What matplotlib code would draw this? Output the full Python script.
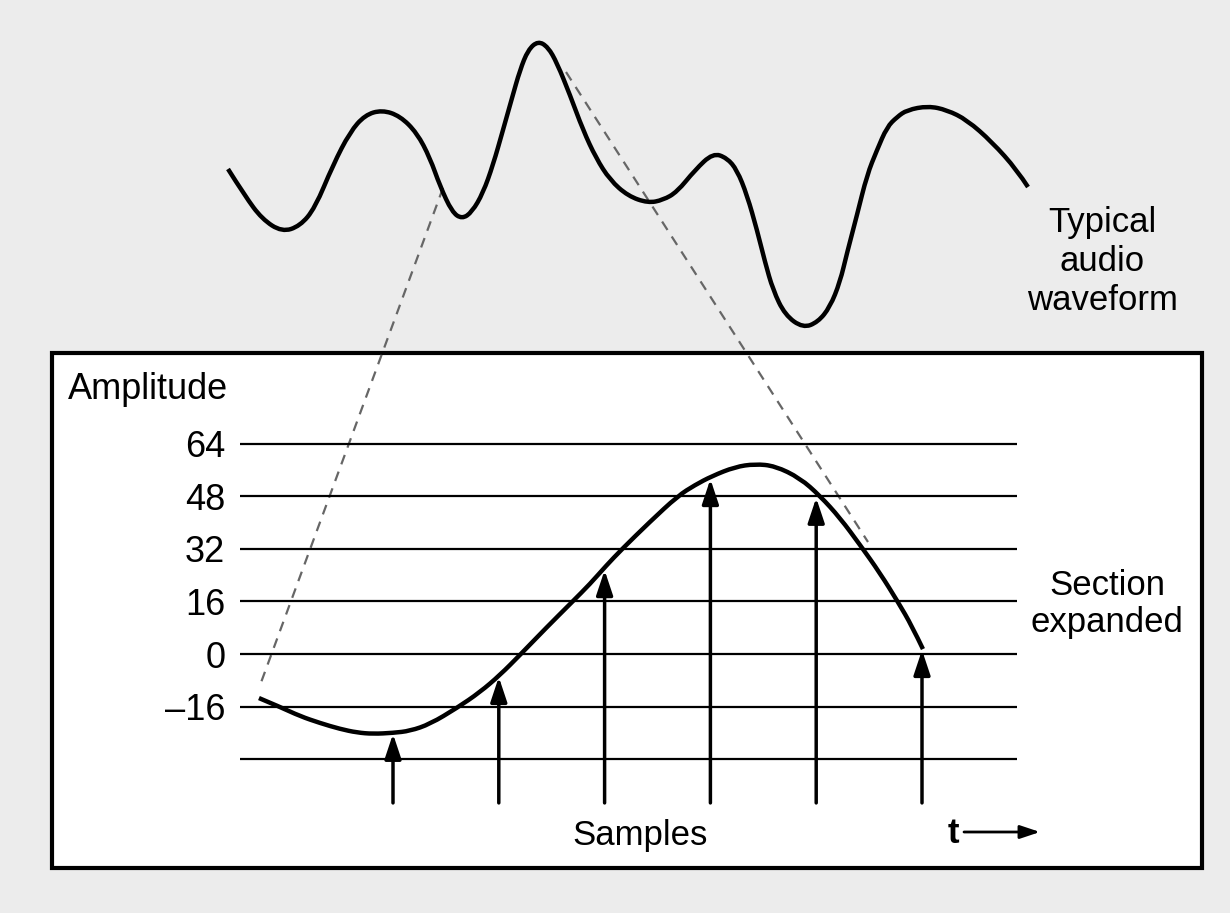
import numpy as np
import matplotlib
matplotlib.use("Agg")
import matplotlib.pyplot as plt
from matplotlib.patches import Rectangle, PathPatch
from matplotlib.path import Path

plt.rcParams['font.family'] = ['Liberation Sans', 'DejaVu Sans']

# [1] data
# typical audio waveform (overlay pixel coords, y down)
wave_x = [228, 245, 262, 282, 300, 315, 333, 350, 365, 382, 400, 417, 430, 440, 452, 462,
          472, 483, 493, 503, 512, 520, 528, 538, 548, 557, 570, 583, 596, 610, 628, 648,
          663, 677, 695, 713, 727, 737, 747, 757, 765, 773, 785, 803, 818, 830, 840, 847,
          857, 867, 877, 887, 897, 907, 928, 947, 967, 992, 1017, 1028]
wave_y = [169, 196, 219, 232, 226, 208, 165, 132, 115, 110, 116, 133, 158, 186, 212, 219,
          212, 193, 165, 130, 98, 70, 50, 41, 47, 63, 95, 130, 158, 180, 196, 203,
          200, 192, 170, 153, 158, 170, 195, 230, 262, 290, 315, 328, 322, 307, 282, 253,
          215, 175, 150, 127, 117, 110, 106, 110, 120, 142, 170, 187]

# expanded section (t in sample periods, amplitude)
sec_t = [-0.267, -0.068, 0.121, 0.310, 0.499, 0.660, 0.811, 1.0, 1.161, 1.350, 1.605, 1.822,
         2.011, 2.200, 2.446, 2.692, 2.862, 3.013, 3.164, 3.428, 3.693, 3.854, 4.014, 4.232,
         4.422, 4.611, 4.847, 5.036, 5.225, 5.414, 5.603, 5.773, 5.905, 6.009]
sec_amp = [-13.4, -16.1, -18.9, -21.0, -22.8, -23.9, -24.3, -24.0, -23.4, -21.3, -16.4, -11.6,
           -6.4, -0.3, 7.9, 15.8, 21.3, 26.8, 31.9, 40.2, 48.1, 51.4, 54.1, 56.9,
           57.8, 57.2, 53.5, 48.1, 41.4, 33.2, 24.6, 15.8, 8.5, 1.5]

sample_t = [1, 2, 3, 4, 5, 6]
sample_val = [-24.3, -7.0, 25.5, 53.2, 47.5, 1.2]

levels = [-32, -16, 0, 16, 32, 48, 64]
level_labels = ['', '\u201316', '0', '16', '32', '48', '64']

# dashed connectors (overlay pixel coords)
left_dash = ([443, 259], [188, 688])
right_dash = ([566, 868], [72, 542])


def smooth_curve(axis, xs, ys, **kw):
    # quadratic bezier through the midpoints, read points used as control points
    verts = [(xs[0], ys[0])]
    codes = [Path.MOVETO]
    n = len(xs)
    for i in range(1, n - 1):
        if i < n - 2:
            end = ((xs[i] + xs[i + 1]) / 2, (ys[i] + ys[i + 1]) / 2)
        else:
            end = (xs[-1], ys[-1])
        verts += [(xs[i], ys[i]), end]
        codes += [Path.CURVE3, Path.CURVE3]
    patch = PathPatch(Path(verts, codes), fill=False, capstyle='butt',
                      joinstyle='round', **kw)
    axis.add_patch(patch)
    return patch


# [2] figure
W, H = 1230, 913
fig = plt.figure(figsize=(W / 100, H / 100), dpi=100)
fig.patch.set_facecolor('#ececec')

ax = fig.add_axes([0, 0, 1, 1])
ax.set_xlim(0, W)
ax.set_ylim(H, 0)
ax.axis('off')

ax.add_patch(Rectangle((52, 353), 1150, 515, facecolor='white', edgecolor='black',
                       linewidth=3, zorder=1))
for xs, ys in (left_dash, right_dash):
    ax.plot(xs, ys, color='#666666', lw=1.6, dashes=(4.5, 3.5), zorder=2)
smooth_curve(ax, wave_x, wave_y, edgecolor='black', lw=3.2, zorder=3)

ax.text(1102, 232, 'Typical', ha='center', va='baseline', fontsize=25)
ax.text(1102, 271, 'audio', ha='center', va='baseline', fontsize=25)
ax.text(1102, 310, 'waveform', ha='center', va='baseline', fontsize=25)
ax.text(1107, 595, 'Section', ha='center', va='baseline', fontsize=25)
ax.text(1107, 632, 'expanded', ha='center', va='baseline', fontsize=25)
ax.text(68, 399, 'Amplitude', ha='left', va='baseline', fontsize=26)
ax.text(640, 845, 'Samples', ha='center', va='baseline', fontsize=25)
ax.text(953, 843, 't', ha='center', va='baseline', fontsize=25, fontweight='bold')
ax.annotate('', xy=(1040, 832), xytext=(964, 832),
            arrowprops=dict(arrowstyle='-|>,head_length=0.6,head_width=0.2',
                            mutation_scale=20, lw=2, color='black',
                            shrinkA=0, shrinkB=0))

# [3] expanded section axes
px_t = 105.8          # pixels per sample period
px_a = 52.6 / 16      # pixels per amplitude unit
t0, t1 = -0.5, 7.0
a0, a1 = -48, 70
left = 393 - (1 - t0) * px_t
right = 393 + (t1 - 1) * px_t
bottom = 654 - a0 * px_a
top = 654 - a1 * px_a
ax2 = fig.add_axes([left / W, (H - bottom) / H, (right - left) / W, (bottom - top) / H])
ax2.set_xlim(t0, t1)
ax2.set_ylim(a0, a1)
ax2.patch.set_alpha(0)
for s in ax2.spines.values():
    s.set_visible(False)
ax2.set_xticks([])
ax2.set_yticks(levels)
ax2.set_yticklabels(level_labels, fontsize=26)
ax2.tick_params(axis='y', length=0, pad=6.5)

ax2.hlines(levels, -0.45, 6.9, color='black', lw=1.6, zorder=2)
smooth_curve(ax2, sec_t, sec_amp, edgecolor='black', lw=3.2, zorder=4)
for t, v in zip(sample_t, sample_val):
    ax2.annotate('', xy=(t, v), xytext=(t, -45.3),
                 arrowprops=dict(arrowstyle='-|>,head_length=0.75,head_width=0.25',
                                 mutation_scale=20, lw=2.5, color='black',
                                 shrinkA=0, shrinkB=0), zorder=3)

fig.savefig('out.png', dpi=100, facecolor=fig.get_facecolor())
